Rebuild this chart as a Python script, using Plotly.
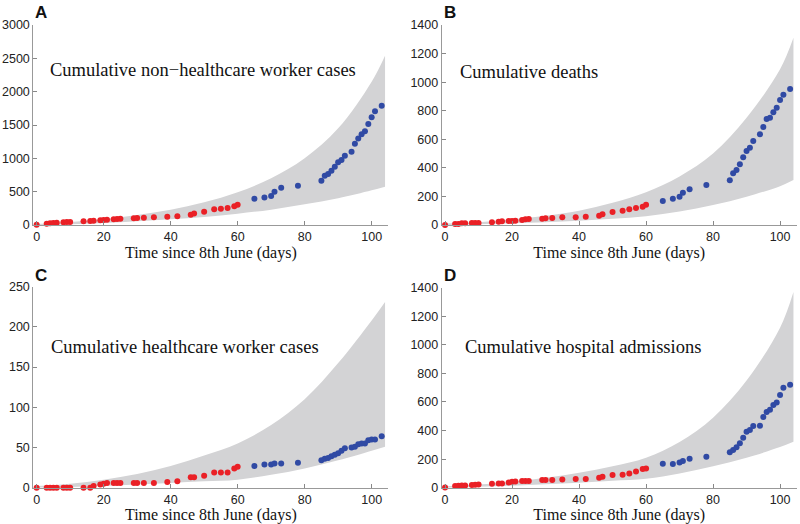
import plotly.graph_objects as go

# ---------------- data ----------------
days_red = [0, 3, 4, 5, 6, 8, 9, 10, 14, 16, 17, 19, 20, 21, 23, 24, 25, 29, 30, 32,
            35, 39, 42, 46, 47, 50, 53, 55, 57, 59, 60]
days_blue = [65, 68, 70, 71, 73, 78, 85, 86, 87, 88, 89, 90, 91, 92, 94, 95, 96, 97,
             98, 99, 100, 101, 103]
band_days = [0, 10, 20, 30, 40, 50, 60, 70, 80, 90, 100, 104]

# A: non-healthcare worker cases
A_red = [5, 20, 25, 30, 35, 40, 45, 45, 55, 60, 65, 70, 75, 80, 85, 90, 92, 100, 105, 110,
         115, 125, 130, 152, 172, 198, 235, 242, 255, 280, 305]
A_blue = [395, 412, 435, 497, 560, 590, 665, 738, 765, 815, 872, 942, 975, 1040, 1100,
          1218, 1297, 1362, 1407, 1515, 1618, 1707, 1787]
A_upper = [15, 45, 90, 150, 230, 340, 490, 700, 1000, 1450, 2150, 2540]
A_lower = [0, 12, 30, 55, 85, 120, 170, 230, 310, 400, 520, 575]

# B: deaths
B_red = [0, 7, 7, 12, 12, 14, 14, 14, 19, 23, 26, 28, 28, 30, 35, 40, 42, 44, 47, 49,
         54, 54, 58, 65, 75, 91, 100, 110, 119, 128, 142]
B_blue = [168, 184, 198, 226, 250, 280, 313, 362, 385, 425, 474, 518, 541, 588, 635,
          686, 742, 751, 789, 821, 875, 912, 952]
B_upper = [10, 20, 40, 65, 100, 155, 230, 340, 500, 750, 1090, 1310]
B_lower = [0, 5, 12, 20, 30, 44, 62, 95, 140, 198, 272, 315]

# C: healthcare worker cases
C_red = [0, 0, 0, 0, 0, 0, 0, 0, 0, 0, 2, 4, 5, 6, 6, 6, 6, 6, 6, 6,
         6, 7, 8, 13, 13, 15, 19, 19, 19, 24, 26]
C_blue = [27, 29, 29, 30, 30, 31, 34, 36, 37, 39, 41, 43, 46, 49, 50, 51, 54, 55, 55,
          59, 60, 60, 64]
C_upper = [2, 5, 10, 17, 27, 40, 55, 78, 110, 155, 208, 231]
C_lower = [0, 1, 2, 4, 6, 8, 10, 16, 24, 34, 46, 51]

# D: hospital admissions
D_red = [2, 12, 14, 16, 16, 19, 21, 23, 28, 30, 30, 37, 42, 44, 47, 47, 47, 54, 54, 54,
         58, 61, 61, 70, 77, 89, 91, 100, 114, 131, 135]
D_blue = [168, 166, 177, 187, 203, 217, 248, 264, 283, 311, 350, 392, 404, 432, 434,
          495, 530, 546, 579, 597, 649, 700, 721]
D_upper = [10, 22, 42, 70, 105, 150, 210, 320, 490, 750, 1120, 1370]
D_lower = [0, 6, 14, 24, 35, 48, 62, 100, 150, 210, 285, 322]

panels = [
    ("A", "Cumulative non\u2212healthcare worker cases", A_red, A_blue, A_upper, A_lower, 3000, 500),
    ("B", "Cumulative deaths", B_red, B_blue, B_upper, B_lower, 1400, 200),
    ("C", "Cumulative healthcare worker cases", C_red, C_blue, C_upper, C_lower, 250, 50),
    ("D", "Cumulative hospital admissions", D_red, D_blue, D_upper, D_lower, 1400, 200),
]

W, H = 800, 524
# pixel geometry of plot areas (left, right, top, bottom)
geo = [
    (33.3, 388.4, 25.0, 225.0),
    (441.7, 796.8, 25.0, 225.0),
    (33.3, 388.4, 286.7, 487.7),
    (441.7, 796.8, 287.7, 487.7),
]
text_pos = [(47.7, 70), (458.3, 71.7), (49.3, 346.7), (462.7, 347.3)]
letter_pos = [(33, 12.5), (441.5, 12.5), (33, 275), (441.5, 275)]

RED = "rgb(234,32,38)"
BLUE = "rgb(48,74,164)"
BAND = "rgb(211,211,213)"
SERIF = "Liberation Serif, Times New Roman, serif"
SANS = "Liberation Sans, Arial, Helvetica, sans-serif"

fig = go.Figure()
layout = dict(width=W, height=H, margin=dict(l=0, r=0, t=0, b=0),
              paper_bgcolor="white", plot_bgcolor="white", showlegend=False)
annotations = []

for i, (letter, label, red, blue, up, lo, ymax, dt) in enumerate(panels):
    n = "" if i == 0 else str(i + 1)
    xa, ya = "x" + n, "y" + n
    l, r, t, b = geo[i]
    fig.add_trace(go.Scatter(x=band_days, y=lo, mode="lines", line=dict(width=0, shape="spline", color=BAND),
                             xaxis=xa, yaxis=ya, hoverinfo="skip"))
    fig.add_trace(go.Scatter(x=band_days, y=up, mode="lines", line=dict(width=0, shape="spline", color=BAND),
                             fill="tonexty", fillcolor=BAND, xaxis=xa, yaxis=ya, hoverinfo="skip"))
    fig.add_trace(go.Scatter(x=days_red, y=red, mode="markers", marker=dict(color=RED, size=6),
                             xaxis=xa, yaxis=ya, cliponaxis=False))
    fig.add_trace(go.Scatter(x=days_blue, y=blue, mode="markers", marker=dict(color=BLUE, size=6),
                             xaxis=xa, yaxis=ya, cliponaxis=False))
    layout["xaxis" + n] = dict(
        domain=[l / W, r / W], anchor=ya, range=[-1, 105],
        tickvals=[0, 20, 40, 60, 80, 100], ticks="inside", ticklen=4, tickcolor="#888",
        showline=True, linecolor="#999", linewidth=1, showgrid=False, zeroline=False,
        tickfont=dict(family=SANS, size=12.5, color="#222"),
        title=dict(text="Time since 8th June (days)", font=dict(family=SERIF, size=16, color="#111"), standoff=0),
        automargin=False,
    )
    layout["yaxis" + n] = dict(
        domain=[1 - b / H, 1 - t / H], anchor=xa, range=[0, ymax], dtick=dt,
        ticks="inside", ticklen=4, tickcolor="#888",
        showline=True, linecolor="#999", linewidth=1, showgrid=False, zeroline=False,
        tickfont=dict(family=SANS, size=12.5, color="#222"), automargin=False,
    )
    tx, ty = text_pos[i]
    annotations.append(dict(text=label, x=tx / W, y=1 - ty / H, xref="paper", yref="paper",
                            xanchor="left", yanchor="middle", showarrow=False,
                            font=dict(family=SERIF, size=18.5, color="#111")))
    lx, ly = letter_pos[i]
    annotations.append(dict(text="<b>" + letter + "</b>", x=lx / W, y=1 - ly / H, xref="paper", yref="paper",
                            xanchor="left", yanchor="middle", showarrow=False,
                            font=dict(family="Liberation Sans Narrow, Arial Narrow, Liberation Sans, sans-serif",
                                      size=17, color="#111")))

layout["annotations"] = annotations
fig.update_layout(**layout)
fig.write_html("out.html", config={"displayModeBar": False},
               post_script="document.body.style.margin='0px';")
